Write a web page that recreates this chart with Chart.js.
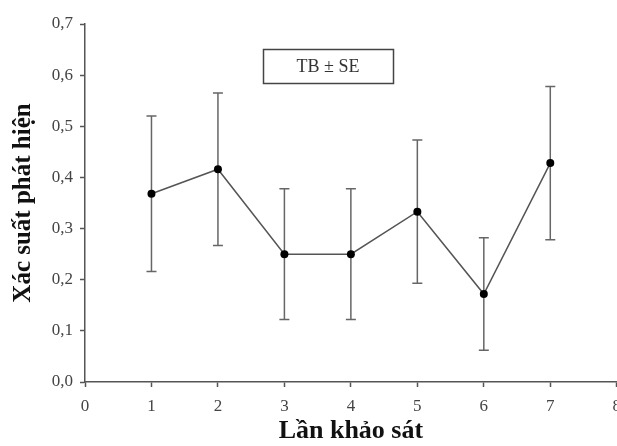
<!DOCTYPE html>
<html>
<head>
<meta charset="utf-8">
<script src="https://cdn.jsdelivr.net/npm/chart.js@4.4.1/dist/chart.umd.min.js"></script>
<style>
  html, body { margin: 0; padding: 0; background: #fff; overflow: hidden; }
  #wrap { width: 630px; height: 446px; }
</style>
</head>
<body>
<div id="wrap"><canvas id="chart" width="630" height="446"></canvas></div>
<script>
// ─── Data ─────────────────────────────────────────────────────────────────────

const surveyRounds = [1, 2, 3, 4, 5, 6, 7];
const meanValues   = [0.368, 0.416, 0.250, 0.250, 0.333, 0.172, 0.428];
const seValues     = [0.152, 0.149, 0.128, 0.128, 0.140, 0.110, 0.150];
const yTicks       = [0, 0.1, 0.2, 0.3, 0.4, 0.5, 0.6, 0.7];
const xTicks       = [0, 1, 2, 3, 4, 5, 6, 7, 8];

const SERIF = '"Liberation Serif", "DejaVu Serif", serif';
const AXIS_COLOR = '#555';

// ─── Plugins ──────────────────────────────────────────────────────────────────

// vertical SE bars with caps, drawn under the points
const errorBars = {
  id: 'errorBars',
  beforeDatasetsDraw(chart) {
    const { ctx, scales: { x, y } } = chart;
    ctx.save();
    ctx.strokeStyle = '#666';
    ctx.lineWidth = 1.5;
    surveyRounds.forEach((r, i) => {
      const px = x.getPixelForValue(r);
      const top = y.getPixelForValue(meanValues[i] + seValues[i]);
      const bot = y.getPixelForValue(meanValues[i] - seValues[i]);
      ctx.beginPath();
      ctx.moveTo(px, top); ctx.lineTo(px, bot);
      ctx.moveTo(px - 5, top); ctx.lineTo(px + 5, top);
      ctx.moveTo(px - 5, bot); ctx.lineTo(px + 5, bot);
      ctx.stroke();
    });
    ctx.restore();
  },
};

// boxed "TB ± SE" note
const noteBox = {
  id: 'noteBox',
  afterDraw(chart) {
    const { ctx } = chart;
    ctx.save();
    ctx.strokeStyle = '#444';
    ctx.lineWidth = 1.5;
    ctx.strokeRect(263.5, 49.5, 130, 34);
    ctx.fillStyle = '#333';
    ctx.font = `18px ${SERIF}`;
    ctx.textAlign = 'center';
    ctx.textBaseline = 'middle';
    ctx.fillText('TB ± SE', 328, 67);
    ctx.restore();
  },
};

// ─── Chart ────────────────────────────────────────────────────────────────────

new Chart(document.getElementById('chart'), {
  type: 'line',
  data: {
    datasets: [{
      data: surveyRounds.map((r, i) => ({ x: r, y: meanValues[i] })),
      borderColor: AXIS_COLOR,
      borderWidth: 1.5,
      pointRadius: 4,
      pointBackgroundColor: '#000',
      pointBorderColor: '#000',
      pointBorderWidth: 0,
      tension: 0,
    }],
  },
  options: {
    responsive: false,
    animation: false,
    layout: { padding: { top: 24, right: 0, bottom: 0, left: 0 } },
    plugins: {
      legend: { display: false },
      tooltip: { enabled: false },
    },
    scales: {
      x: {
        type: 'linear',
        min: 0, max: 8,
        afterBuildTicks: s => { s.ticks = xTicks.map(v => ({ value: v })); },
        afterFit: s => { s.height = 64; },
        border: { color: AXIS_COLOR, width: 1.5 },
        grid: { drawOnChartArea: false, tickLength: 5, tickColor: AXIS_COLOR, tickWidth: 1.5 },
        ticks: { color: '#444', font: { family: SERIF, size: 17 }, padding: 9, maxRotation: 0, autoSkip: false },
        title: {
          display: true, text: 'Lần khảo sát', color: '#111', padding: 2,
          font: { family: SERIF, size: 26, weight: 'bold', lineHeight: 1 },
        },
      },
      y: {
        min: 0, max: 0.7,
        afterBuildTicks: s => { s.ticks = yTicks.map(v => ({ value: v })); },
        afterFit: s => { s.width = 85; },
        border: { color: AXIS_COLOR, width: 1.5 },
        grid: { drawOnChartArea: false, tickLength: 5, tickColor: AXIS_COLOR, tickWidth: 1.5 },
        ticks: {
          color: '#444', font: { family: SERIF, size: 17 }, padding: 7,
          callback: v => v.toFixed(1).replace('.', ','),
        },
        title: {
          display: true, text: 'Xác suất phát hiện', color: '#111', padding: 11,
          font: { family: SERIF, size: 25, weight: 'bold', lineHeight: 1 },
        },
      },
    },
  },
  plugins: [errorBars, noteBox],
});
</script>
</body>
</html>
